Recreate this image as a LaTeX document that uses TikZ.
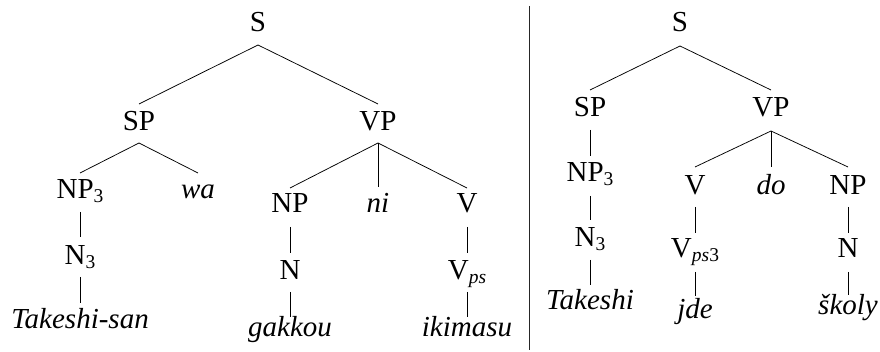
\documentclass[tikz,border=0pt]{standalone}
\usepackage{fontspec}
\setmainfont{Liberation Serif}
\usetikzlibrary{calc}
% lowered, smaller subscript in the text font
\newcommand\lsub[1]{\raisebox{-4pt}{\fontsize{19.5}{20}\selectfont #1}}
% branch from below the parent's baseline to above the child's baseline
\newcommand\tedge[4]{\draw[branch] ($(#1.base)+(0,#3)$) -- ($(#2.base)+(0,-#4)$);}
\begin{document}
\begin{tikzpicture}[x=1pt,y=-1pt,
  lbl/.style={inner sep=0pt, anchor=base, font=\fontsize{29}{31}\selectfont},
  word/.style={lbl, font=\fontsize{29}{31}\selectfont\itshape},
  branch/.style={line width=0.75pt, black},
  divider/.style={line width=0.9pt, black!85}]
\useasboundingbox (0,0) rectangle (880,352);

% ---- Japanese sentence tree ----
\node[lbl]  (S)    at (258,32)  {S};
\node[lbl]  (SP)   at (139,131) {SP};
\node[lbl]  (VP)   at (378,131) {VP};
\node[lbl]  (NPt)  at (80,199)  {NP\lsub{3}};
\node[word] (wa)   at (198,199) {wa};
\node[lbl]  (NP)   at (290,213) {NP};
\node[word] (ni)   at (378,213) {ni};
\node[lbl]  (V)    at (467,213) {V};
\node[lbl]  (Nt)   at (80,265)  {N\lsub{3}};
\node[lbl]  (N)    at (290,280) {N};
\node[lbl]  (Vps)  at (467,280) {V\lsub{\textit{ps}}};
\node[word] (tks)  at (80,328)  {Takeshi-san};
\node[word] (gak)  at (290,337) {gakkou};
\node[word] (iki)  at (467,337) {ikimasu};

\tedge{S}{SP}{13}{27}
\tedge{S}{VP}{13}{27}
\tedge{SP}{NPt}{12}{26}
\tedge{SP}{wa}{12}{26}
\tedge{VP}{NP}{12}{25}
\tedge{VP}{ni}{12}{26}
\tedge{VP}{V}{12}{25}
\tedge{NPt}{Nt}{13}{28}
\tedge{Nt}{tks}{12}{25}
\tedge{NP}{N}{14}{27}
\tedge{N}{gak}{12}{20}
\tedge{V}{Vps}{14}{27}
\tedge{Vps}{iki}{12}{20}

% ---- separator ----
\coordinate (dtop) at (529,6);
\coordinate (dbot) at (529,350);
\draw[divider] (dtop) -- (dbot);

% ---- Czech sentence tree ----
\node[lbl]  (rS)   at (680,32)  {S};
\node[lbl]  (rSP)  at (590,117) {SP};
\node[lbl]  (rVP)  at (771,117) {VP};
\node[lbl]  (rNPt) at (590,182) {NP\lsub{3}};
\node[lbl]  (rV)   at (695,195) {V};
\node[word] (rdo)  at (771,195) {do};
\node[lbl]  (rNP)  at (848,195) {NP};
\node[lbl]  (rNt)  at (590,247) {N\lsub{3}};
\node[lbl]  (rVps) at (695,258) {V\lsub{\textit{ps}3}};
\node[lbl]  (rN)   at (848,258) {N};
\node[word] (rtk)  at (590,309) {Takeshi};
\node[word] (rjde) at (695,319) {jde};
\node[word] (rsk)  at (848,315) {školy};

\tedge{rS}{rSP}{14}{27}
\tedge{rS}{rVP}{14}{27}
\tedge{rSP}{rNPt}{13}{26}
\tedge{rVP}{rV}{14}{28}
\tedge{rVP}{rdo}{14}{28}
\tedge{rVP}{rNP}{14}{28}
\tedge{rNPt}{rNt}{14}{27}
\tedge{rNt}{rtk}{13}{24}
\tedge{rV}{rVps}{12}{25}
\tedge{rVps}{rjde}{14}{23}
\tedge{rNP}{rN}{12}{25}
\tedge{rN}{rsk}{14}{20}
\end{tikzpicture}
\end{document}
